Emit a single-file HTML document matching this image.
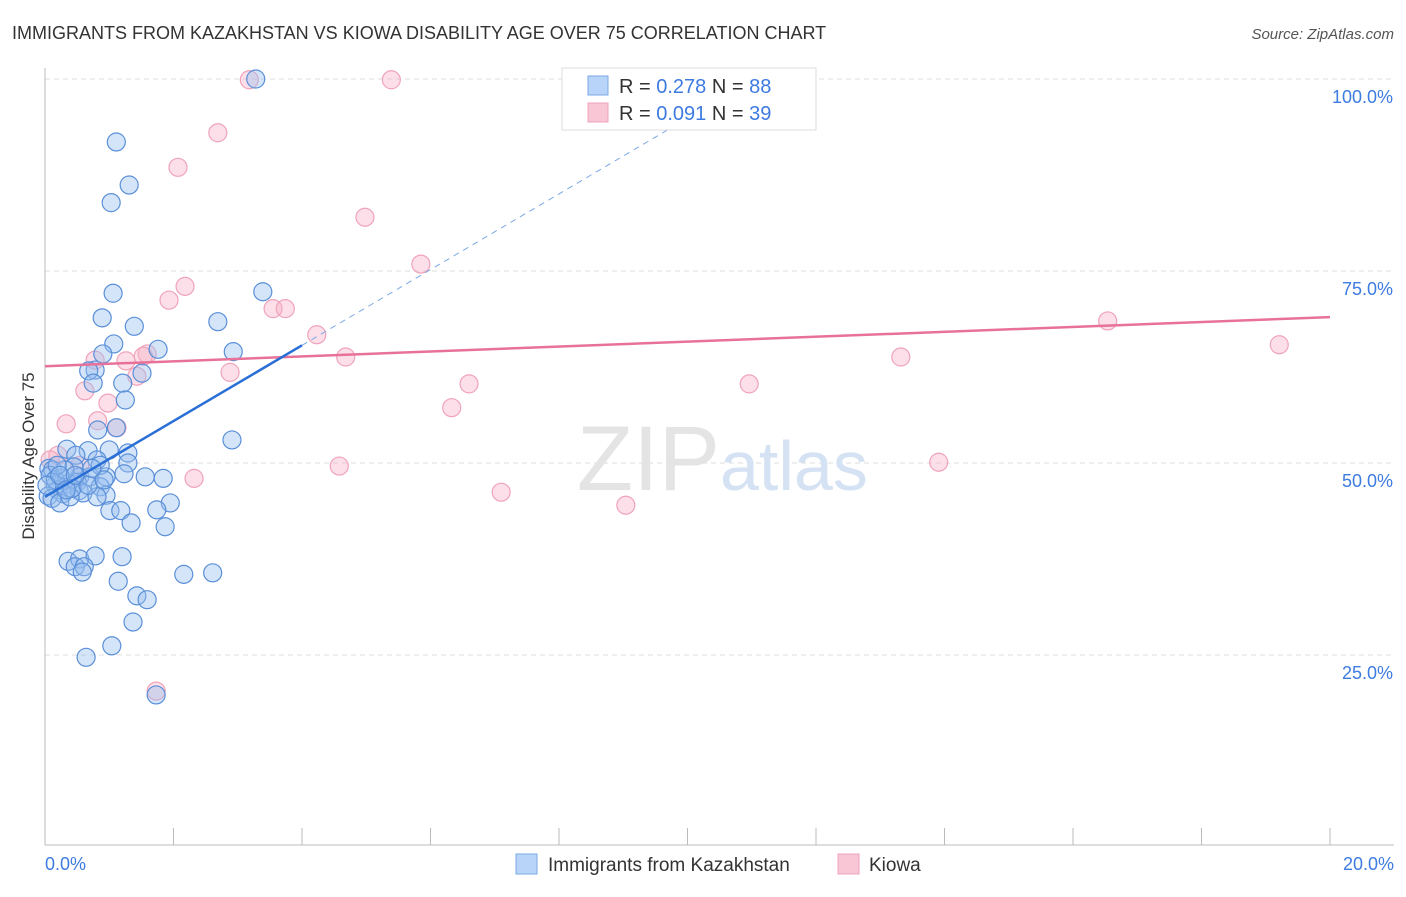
<!DOCTYPE html>
<html><head><meta charset="utf-8"><style>
body{margin:0;background:#fff;font-family:"Liberation Sans",sans-serif;}
svg text{font-family:"Liberation Sans",sans-serif;}
</style></head><body>
<svg width="1406" height="892" xmlns="http://www.w3.org/2000/svg">
<text x="12" y="39" font-size="18" fill="#333">IMMIGRANTS FROM KAZAKHSTAN VS KIOWA DISABILITY AGE OVER 75 CORRELATION CHART</text>
<text x="1394" y="39" font-size="15" fill="#555" font-style="italic" text-anchor="end">Source: ZipAtlas.com</text>
<g id="grid"></g>
<text x="720" y="490" font-size="92" fill="#e4e4e4" text-anchor="end" font-family="Liberation Serif">ZIP</text>
<text x="720" y="490" font-size="70" fill="#d4e2f4">atlas</text>
<line x1="45" y1="68" x2="45" y2="845" stroke="#bbb"/>
<line x1="45" y1="845" x2="1394" y2="845" stroke="#bbb"/>
<g id="ticks"></g>
<text x="45" y="870" font-size="18" fill="#3d7be0">0.0%</text>
<text x="1394" y="870" font-size="18" fill="#3d7be0" text-anchor="end">20.0%</text>
<text transform="translate(34,456) rotate(-90)" font-size="17" fill="#333" text-anchor="middle">Disability Age Over 75</text>
<g id="pts"></g>
<g id="lines"></g>
<g>
<rect x="562" y="68" width="254" height="62" fill="#fff" stroke="#ddd"/>
<rect x="588" y="76" width="20" height="19" fill="#b8d4f8" stroke="#7aa8e6"/>
<rect x="588" y="103" width="20" height="19" fill="#f9c6d6" stroke="#efa3bb"/>
<text x="619" y="93" font-size="20" fill="#333">R = <tspan fill="#3d7be0">0.278</tspan>   N = <tspan fill="#3d7be0">88</tspan></text>
<text x="619" y="120" font-size="20" fill="#333">R = <tspan fill="#3d7be0">0.091</tspan>   N = <tspan fill="#3d7be0">39</tspan></text>
</g>
<g>
<rect x="516" y="854" width="21" height="20" fill="#b8d4f8" stroke="#7aa8e6"/>
<text x="548" y="871" font-size="19" fill="#333">Immigrants from Kazakhstan</text>
<rect x="838" y="854" width="21" height="20" fill="#f9c6d6" stroke="#efa3bb"/>
<text x="869" y="871" font-size="19" fill="#333">Kiowa</text>
</g>
</svg>
<script>
const yTicks=[25,50,75,100];
const xTicks=[0,2,4,6,8,10,12,14,16,18,20];
const blueX=[3.28,1.11,1.31,1.03,1.06,3.39,0.89,1.39,2.69,1.07,0.90,1.76,2.93,0.78,0.68,1.51,0.75,1.21,1.25,2.91,0.34,0.67,0.48,1.0,1.29,0.81,1.29,0.06,0.12,0.26,0.45,0.54,0.70,0.95,1.56,1.84,0.16,0.36,0.50,0.20,0.28,0.53,0.86,0.95,0.59,0.05,0.11,0.23,0.39,0.81,1.23,1.95,1.74,1.01,1.18,1.34,1.87,0.36,0.54,0.78,1.20,0.47,0.61,0.58,1.14,2.16,2.61,1.43,1.59,1.37,1.04,0.64,1.73,0.08,0.16,0.31,0.42,0.03,0.19,0.67,0.86,1.11,0.82,0.92,0.23,0.33,0.73,0.47];
const blueY=[100,91.8,86.2,83.9,72.1,72.3,68.9,67.8,68.4,65.5,64.2,64.8,64.5,62.1,62.0,61.7,60.4,60.4,58.2,53.0,51.8,51.6,51.0,51.7,51.3,50.4,50.0,49.3,49.1,48.0,49.5,48.2,48.2,48.2,48.2,48.0,47.1,47.3,47.5,46.5,46.0,46.4,46.9,45.8,46.1,45.7,45.4,44.8,45.6,45.6,48.6,44.8,43.9,43.8,43.8,42.2,41.7,37.2,37.5,37.9,37.8,36.5,36.5,35.8,34.6,35.5,35.7,32.7,32.2,29.3,26.2,24.7,19.8,48.4,47.8,49.1,46.7,47.1,49.7,47.1,49.7,54.6,54.3,47.8,48.4,46.5,49.3,48.4];
const pinkX=[3.18,5.39,9.07,2.69,2.07,4.98,5.85,2.18,1.93,3.55,3.74,4.23,1.59,1.53,4.68,0.78,1.26,2.88,1.43,6.60,10.96,13.32,16.54,19.21,0.62,0.98,0.82,1.12,0.33,6.33,0.20,0.54,0.08,4.58,13.91,2.32,7.10,9.04,1.73];
const pinkY=[99.9,99.9,99.9,93.0,88.5,82.0,75.9,73.0,71.2,70.1,70.1,66.7,64.2,63.9,63.8,63.4,63.3,61.8,61.3,60.3,60.3,63.8,68.5,65.4,59.4,57.8,55.5,54.6,55.1,57.2,51.0,49.7,50.4,49.6,50.1,48.0,46.2,44.5,20.3];
const blueTrend=[45.6,4.93]; // intercept, slope per %
const pinkTrend=[62.6,0.32];
const NS='http://www.w3.org/2000/svg';
const sx=v=>45+v*64.25, sy=v=>847-v*7.68;
function mk(tag,attrs,parent){const e=document.createElementNS(NS,tag);for(const k in attrs)e.setAttribute(k,attrs[k]);parent.appendChild(e);return e;}
const grid=document.getElementById('grid');
yTicks.forEach(t=>{
 const l=mk('line',{x1:45,x2:1394,y1:sy(t),y2:sy(t),stroke:'#ddd','stroke-dasharray':'5,4'},grid);
 
 
 const tx=mk('text',{x:1393,y:sy(t)+24,'font-size':18,fill:'#3d7be0','text-anchor':'end'},grid);
 tx.textContent=t.toFixed(1)+'%';
 
 
});
const ticks=document.getElementById('ticks');
xTicks.forEach(t=>{
 const l=mk('line',{x1:sx(t),x2:sx(t),y1:828,y2:845,stroke:'#bbb'},ticks);
 
 
});
const pts=document.getElementById('pts');
pinkX.forEach((x,i)=>{
 const c=mk('circle',{cx:sx(x),cy:sy(pinkY[i]),r:9,fill:'rgba(248,175,198,0.4)',stroke:'#f0a3ba','stroke-width':1.2},pts);
 
 
});
blueX.forEach((x,i)=>{
 const c=mk('circle',{cx:sx(x),cy:sy(blueY[i]),r:9,fill:'rgba(150,190,240,0.4)',stroke:'#5a8fd8','stroke-width':1.2},pts);
 
 
});
const lines=document.getElementById('lines');
const bf=x=>blueTrend[0]+blueTrend[1]*x, pf=x=>pinkTrend[0]+pinkTrend[1]*x;
let l=mk('line',{x1:sx(0),y1:sy(pf(0)),x2:sx(20),y2:sy(pf(20)),stroke:'#e8719a','stroke-width':2.5},lines);


l=mk('line',{x1:sx(4),y1:sy(bf(4)),x2:sx(10),y2:sy(bf(10)),stroke:'#7aa8e6','stroke-width':1,'stroke-dasharray':'6,5'},lines);


l=mk('line',{x1:sx(0),y1:sy(bf(0)),x2:sx(4),y2:sy(bf(4)),stroke:'#2a6fd6','stroke-width':2.5},lines);


</script>
</body></html>
